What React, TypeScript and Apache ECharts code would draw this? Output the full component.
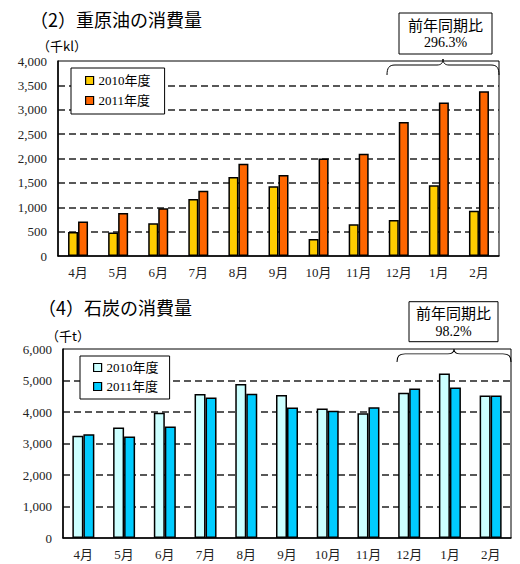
import React, { useEffect, useRef } from "react";
import * as echarts from "echarts";

const months = ["4月", "5月", "6月", "7月", "8月", "9月", "10月", "11月", "12月", "1月", "2月"];
const seriesNames = ["2010年度", "2011年度"];
const oil2010 = [490, 480, 670, 1170, 1620, 1430, 350, 650, 740, 1450, 930];
const oil2011 = [710, 880, 980, 1340, 1890, 1660, 2000, 2100, 2750, 3150, 3380];
const coal2010 = [3250, 3510, 3980, 4570, 4890, 4540, 4110, 3960, 4610, 5220, 4520];
const coal2011 = [3290, 3220, 3540, 4460, 4580, 4140, 4040, 4150, 4750, 4780, 4520];
const oilTitle = "（2）重原油の消費量";
const coalTitle = "（4）石炭の消費量";
const oilUnit = "（千kl）";
const coalUnit = "（千t）";
const ratioLabel = "前年同期比";
const oilRatio = "296.3%";
const coalRatio = "98.2%";

const SERIF = "'Liberation Serif', 'Noto Sans CJK JP', serif";
const CJK = "'Noto Sans CJK JP', 'Liberation Serif', sans-serif";

echarts.graphic.registerShape(
  "brace",
  echarts.graphic.extendPath(
    "M0,16 C0,9 2,6 8,6 L50,6 C54,6 56,4 56,0 C56,4 58,6 62,6 L104,6 C110,6 112,9 112,16",
    {}
  )
);

const fmt = (v: number) => v.toLocaleString("en-US");

function txt(text: string, x: number, y: number, size: number, family: string, align = "left") {
  return {
    type: "text",
    x,
    y,
    z: 20,
    style: {
      text,
      fill: "#000",
      fontSize: size,
      fontFamily: family,
      lineHeight: size,
      textAlign: align,
      textVerticalAlign: "middle",
      align,
      verticalAlign: "middle",
    },
  };
}

type Cfg = {
  grid: { left: number; right: number; top: number; bottom: number };
  max: number;
  interval: number;
  d1: number[];
  d2: number[];
  c1: string;
  c2: string;
  barWidth: number;
  legend: { left: number; top: number; padding: number[]; itemGap: number };
  graphic: any[];
};

function buildOption(c: Cfg) {
  return {
    animation: false,
    grid: { ...c.grid, show: true, borderColor: "#000", borderWidth: 1, backgroundColor: "transparent" },
    legend: {
      data: seriesNames,
      left: c.legend.left,
      top: c.legend.top,
      orient: "vertical",
      icon: "rect",
      itemWidth: 8,
      itemHeight: 8,
      itemGap: c.legend.itemGap,
      padding: c.legend.padding,
      borderColor: "#000",
      borderWidth: 1,
      backgroundColor: "#fff",
      textStyle: { fontSize: 13, color: "#000", fontFamily: SERIF },
      itemStyle: { borderColor: "#000", borderWidth: 1.2 },
    },
    xAxis: {
      type: "category",
      data: months,
      axisLine: { lineStyle: { color: "#000", width: 1.5 } },
      axisTick: { inside: true, length: 4, lineStyle: { color: "#000" } },
      axisLabel: { color: "#222", fontSize: 13, margin: 10, fontFamily: SERIF },
    },
    yAxis: {
      type: "value",
      min: 0,
      max: c.max,
      interval: c.interval,
      axisLine: { show: true, lineStyle: { color: "#000", width: 1.5 } },
      axisTick: { show: false },
      axisLabel: { color: "#222", fontSize: 13, margin: 11, fontFamily: SERIF, formatter: fmt },
      splitLine: {
        show: true,
        showMinLine: false,
        showMaxLine: false,
        lineStyle: { type: [7, 4], color: "#222", width: 1.5 },
      },
    },
    series: [
      {
        type: "bar",
        name: seriesNames[0],
        data: c.d1,
        barWidth: c.barWidth,
        barGap: "0%",
        itemStyle: { color: c.c1, borderColor: "#000", borderWidth: 1.5 },
      },
      {
        type: "bar",
        name: seriesNames[1],
        data: c.d2,
        barWidth: c.barWidth,
        barGap: "0%",
        itemStyle: { color: c.c2, borderColor: "#000", borderWidth: 1.5 },
      },
    ],
    graphic: c.graphic,
  };
}

function Chart({ option, top }: { option: any; top: number }) {
  const ref = useRef<HTMLDivElement>(null);
  useEffect(() => {
    if (!ref.current) return;
    const chart = echarts.init(ref.current, undefined, { renderer: "svg" });
    chart.setOption(option);
    return () => chart.dispose();
  }, [option]);
  return (
    <div
      ref={ref}
      style={{ position: "absolute", left: 0, top, width: 520, height: 282 }}
    />
  );
}

const oilOption = buildOption({
  grid: { left: 58, right: 21, top: 61, bottom: 26 },
  max: 4000,
  interval: 500,
  d1: oil2010,
  d2: oil2011,
  c1: "#FFCC00",
  c2: "#FF6600",
  barWidth: 10,
  legend: { left: 71, top: 68, padding: [6, 14, 7, 14], itemGap: 7 },
  graphic: [
    txt(oilTitle, 30, 18.5, 18, CJK),
    txt(oilUnit, 62, 45, 13, CJK, "center"),
    {
      type: "rect",
      z: 15,
      shape: { x: 399, y: 13, width: 93, height: 41 },
      style: { fill: "#fff", stroke: "#000", lineWidth: 1 },
    },
    txt(ratioLabel, 445.5, 24.5, 15, CJK, "center"),
    txt(oilRatio, 445.5, 42.5, 14, SERIF, "center"),
    {
      type: "brace",
      z: 15,
      x: 387,
      y: 59,
      scaleX: 1,
      scaleY: 1,
      style: { fill: "none", stroke: "#000", lineWidth: 1 },
    },
  ],
});

const coalOption = buildOption({
  grid: { left: 63, right: 9, top: 67, bottom: 26 },
  max: 6000,
  interval: 1000,
  d1: coal2010,
  d2: coal2011,
  c1: "#CCFFFF",
  c2: "#00CCFF",
  barWidth: 11,
  legend: { left: 80, top: 74, padding: [5, 11, 6, 13], itemGap: 6 },
  graphic: [
    txt(coalTitle, 38, 25, 18, CJK),
    txt(coalUnit, 68, 53, 13, CJK, "center"),
    {
      type: "rect",
      z: 15,
      shape: { x: 409, y: 19.7, width: 89, height: 40 },
      style: { fill: "#fff", stroke: "#000", lineWidth: 1 },
    },
    txt(ratioLabel, 453.5, 30, 15, CJK, "center"),
    txt(coalRatio, 453.5, 49.5, 14, SERIF, "center"),
    {
      type: "brace",
      z: 15,
      x: 397,
      y: 67,
      scaleX: 114 / 112,
      scaleY: 13 / 16,
      style: { fill: "none", stroke: "#000", lineWidth: 1 },
    },
  ],
});

export default function App() {
  return (
    <div style={{ position: "absolute", left: 0, top: 0, width: 520, height: 564, background: "#fff" }}>
      <Chart option={oilOption} top={0} />
      <Chart option={coalOption} top={282} />
    </div>
  );
}
